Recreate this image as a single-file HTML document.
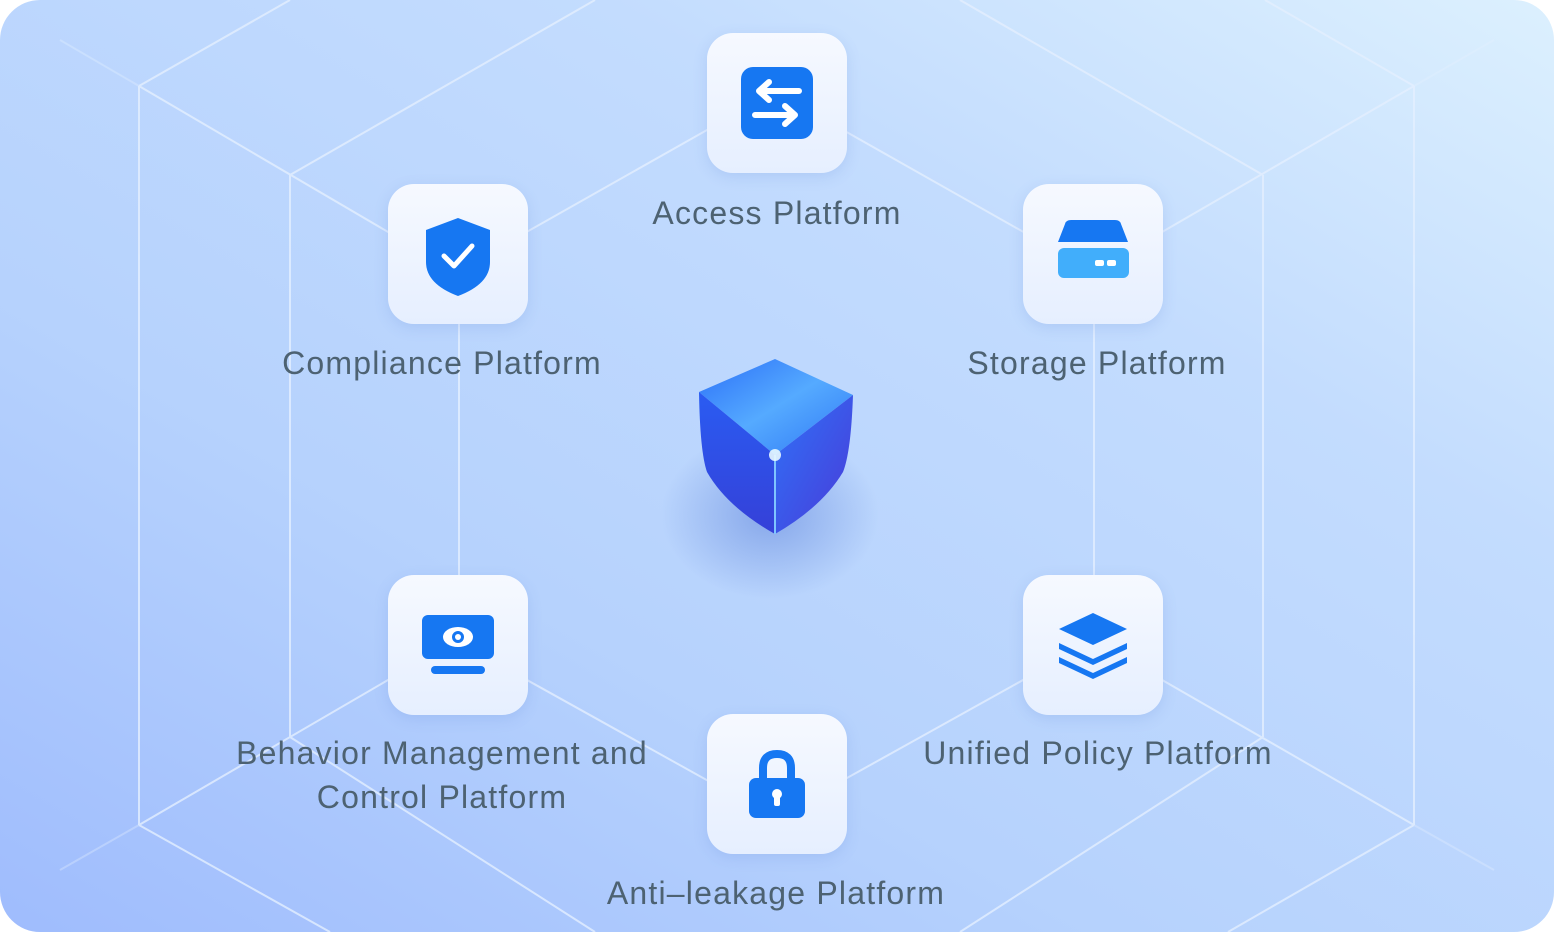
<!DOCTYPE html>
<html><head><meta charset="utf-8"><style>
html,body{margin:0;padding:0;background:#fff;width:1556px;height:932px;overflow:hidden}
#bg{position:absolute;left:0;top:0;width:1554px;height:932px;border-radius:40px;overflow:hidden;
background:linear-gradient(210deg,#dcf0fe 0%,#c3dcfe 30%,#b6d2fd 65%,#9fbcfd 100%)}
.box{position:absolute;width:140px;height:140px;border-radius:26px;
background:linear-gradient(180deg,#f6f9ff 0%,#e6efff 100%);box-shadow:0 4px 14px rgba(90,130,210,0.18)}
.box svg{position:absolute;left:34px;top:34px}
.lbl{position:absolute;font-family:"Liberation Sans",sans-serif;font-size:32px;letter-spacing:1.2px;color:#4d6272;text-align:center;line-height:44px;white-space:nowrap}
</style></head><body>
<div id="bg">
<svg width="1556" height="932" style="position:absolute;left:0;top:0">
<g stroke="#e4efff" stroke-width="2" fill="none" opacity="0.8">
<line x1="139" y1="86" x2="139" y2="825"/><line x1="1414" y1="86" x2="1414" y2="825"/>
<line x1="290" y1="175" x2="290" y2="737"/><line x1="1263" y1="175" x2="1263" y2="737"/>
<line x1="139" y1="86" x2="290" y2="0"/><line x1="1414" y1="86" x2="1265" y2="0"/>
<line x1="139" y1="825" x2="330" y2="932"/><line x1="1414" y1="825" x2="1228" y2="932"/>
<line x1="290" y1="175" x2="595" y2="0"/><line x1="1263" y1="175" x2="960" y2="0"/>
<line x1="290" y1="737" x2="595" y2="932"/><line x1="1263" y1="737" x2="960" y2="932"/>
<line x1="139" y1="86" x2="400" y2="239"/><line x1="1414" y1="86" x2="1150" y2="239"/>
<line x1="139" y1="825" x2="400" y2="673"/><line x1="1414" y1="825" x2="1150" y2="673"/>
<line x1="500" y1="247" x2="730" y2="117"/><line x1="820" y1="117" x2="1050" y2="247"/>
<line x1="459" y1="300" x2="459" y2="600"/><line x1="1094" y1="300" x2="1094" y2="600"/>
<line x1="500" y1="665" x2="730" y2="793"/><line x1="820" y1="793" x2="1050" y2="665"/>
</g>
<g stroke="#e4efff" stroke-width="2" opacity="0.35">
<line x1="60" y1="40" x2="139" y2="86"/><line x1="1494" y1="40" x2="1414" y2="86"/>
<line x1="60" y1="870" x2="139" y2="825"/><line x1="1494" y1="870" x2="1414" y2="825"/>
</g>
</svg>
<div style="position:absolute;left:660px;top:430px;width:220px;height:170px;border-radius:50%;background:radial-gradient(ellipse,rgba(70,110,210,0.45),rgba(70,110,210,0) 70%)"></div>
<svg width="160" height="180" style="position:absolute;left:697px;top:357px" viewBox="0 0 160 180">
<defs>
<linearGradient id="l" x1="0" y1="0" x2="0" y2="1"><stop offset="0" stop-color="#2a5cf2"/><stop offset="1" stop-color="#3540d8"/></linearGradient>
<linearGradient id="r" x1="0" y1="0" x2="1" y2="1"><stop offset="0" stop-color="#2f72f8"/><stop offset="1" stop-color="#4a3ad8"/></linearGradient>
<linearGradient id="t" x1="0" y1="0" x2="1" y2="1"><stop offset="0" stop-color="#2c70f8"/><stop offset="0.5" stop-color="#55aaff"/><stop offset="1" stop-color="#2f78f5"/></linearGradient>
</defs>
<path d="M2 35 L78 2 L156 38 L78 98 Z" fill="url(#t)"/>
<path d="M2 35 L78 98 L78 177 Q30 150 10 115 Q3 95 2 35Z" fill="url(#l)"/>
<path d="M156 38 L78 98 L78 177 Q125 150 146 115 Q154 95 156 38Z" fill="url(#r)"/>
<path d="M78 98 L78 177" stroke="#7fc4ff" stroke-width="2"/>
<circle cx="78" cy="98" r="6" fill="#e8f8ff" opacity="0.9"/>
</svg>
<div class="box" style="left:707px;top:33px"><svg width="72" height="72"><rect x="0" y="0" width="72" height="72" rx="12" fill="#1677f2"/><path d="M58 24H20M28 15l-10 9 10 9M14 48h38M44 39l10 9-10 9" stroke="#fff" stroke-width="6" fill="none" stroke-linecap="round" stroke-linejoin="round"/></svg></div>
<div class="box" style="left:388px;top:184px"><svg width="72" height="80"><path d="M36 0 L68 12 V44 Q68 66 36 78 Q4 66 4 44 V12Z" fill="#1677f2"/><path d="M22 38 L32 48 L50 28" stroke="#fff" stroke-width="5" fill="none" stroke-linecap="round" stroke-linejoin="round"/></svg></div>
<div class="box" style="left:1023px;top:184px"><svg width="72" height="72"><path d="M8 6 Q9 2 14 2 H58 Q63 2 64 6 L71 24 H1Z" fill="#1677f2"/><rect x="1" y="30" width="71" height="30" rx="6" fill="#41aefb"/><rect x="38" y="42" width="9" height="6" rx="2" fill="#fff"/><rect x="50" y="42" width="9" height="6" rx="2" fill="#fff"/></svg></div>
<div class="box" style="left:388px;top:575px"><svg width="72" height="72"><rect x="0" y="6" width="72" height="44" rx="6" fill="#1677f2"/><rect x="9" y="57" width="54" height="8" rx="4" fill="#1677f2"/><ellipse cx="36" cy="28" rx="15" ry="10" fill="#fff"/><circle cx="36" cy="28" r="6" fill="#1677f2"/><circle cx="36" cy="28" r="3" fill="#fff"/></svg></div>
<div class="box" style="left:1023px;top:575px"><svg width="72" height="72"><path d="M36 4 L70 20 L36 36 L2 20Z" fill="#1677f2"/><path d="M2 34 L36 50 L70 34 V40 L36 56 L2 40Z" fill="#1677f2"/><path d="M2 48 L36 64 L70 48 V54 L36 70 L2 54Z" fill="#1677f2"/></svg></div>
<div class="box" style="left:707px;top:714px"><svg width="72" height="72"><path d="M22 34 V20 Q22 6 36 6 Q50 6 50 20 V34" stroke="#1677f2" stroke-width="8" fill="none"/><rect x="8" y="30" width="56" height="40" rx="7" fill="#1677f2"/><circle cx="36" cy="46" r="5" fill="#fff"/><rect x="33" y="46" width="6" height="12" rx="2" fill="#fff"/></svg></div>
<div class="lbl" style="left:527px;top:191px;width:500px">Access Platform</div>
<div class="lbl" style="left:192px;top:341px;width:500px">Compliance Platform</div>
<div class="lbl" style="left:847px;top:341px;width:500px">Storage Platform</div>
<div class="lbl" style="left:142px;top:731px;width:600px">Behavior Management and<br>Control Platform</div>
<div class="lbl" style="left:848px;top:731px;width:500px">Unified Policy Platform</div>
<div class="lbl" style="left:476px;top:871px;width:600px">Anti–leakage Platform</div>
</div>
</body></html>
